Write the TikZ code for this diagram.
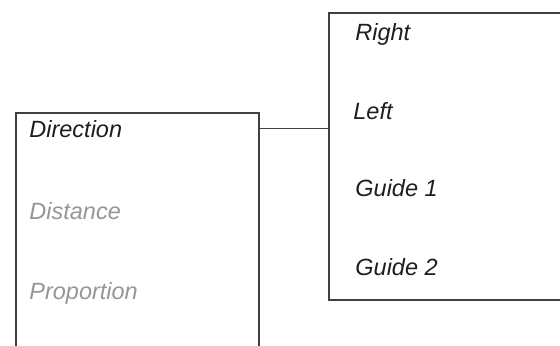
\documentclass[tikz,border=0pt]{standalone}
\usepackage{fontspec}
\setmainfont{Liberation Sans}
\usetikzlibrary{positioning}
\definecolor{frameGray}{RGB}{64,64,64}
\definecolor{textDark}{RGB}{30,30,30}
\definecolor{textGray}{RGB}{150,150,150}

\begin{document}
\begin{tikzpicture}[
  x=0.5pt,y=0.5pt,
  panel/.style={
    draw=frameGray,
    line width=0.75pt,
    anchor=north west,
    inner sep=0pt
  },
  entry/.style={anchor=base west,inner sep=0pt,
    font=\fontsize{11.75}{14}\selectfont\itshape},
  active/.style={entry,text=textDark},
  inactive/.style={entry,text=textGray},
  link/.style={draw=frameGray,line width=0.75pt}
]
  \useasboundingbox (0,0) rectangle (560,345);
  \clip (0,0) rectangle (560,345);

  % left panel, open at the bottom
  \node[panel,minimum width=121.5pt,minimum height=130pt] (modebox) at (15,233) {};
  \node[active] (direction) at (29,207.5) {Direction};
  \node[inactive] (distance) at (29,126) {Distance};
  \node[inactive] (proportion) at (29,46) {Proportion};

  % right panel, runs off the right edge
  \node[panel,minimum width=140pt,minimum height=143.5pt] (optbox) at (328,333) {};
  \node[active] (right) at (355,305) {Right};
  \node[active] (left) at (353,226) {Left};
  \node[active] (guideA) at (355,149) {Guide 1};
  \node[active] (guideB) at (355,70) {Guide 2};

  \coordinate (modelink) at ([yshift=-8.3pt]modebox.north east);
  \draw[link] (modelink) -- (modelink -| optbox.west);
\end{tikzpicture}
\end{document}
